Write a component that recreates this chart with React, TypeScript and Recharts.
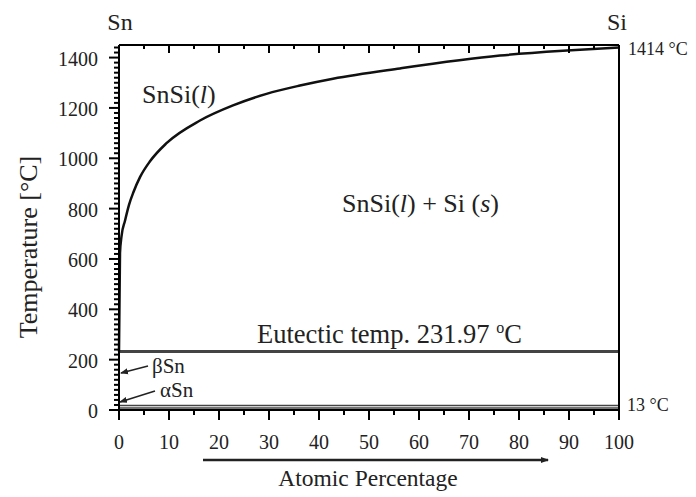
import React from 'react';
import { LineChart, Line, XAxis, YAxis, ReferenceLine } from 'recharts';

// Sn-Si liquidus
const atomicPct = [0, 0.2, 0.5, 1.2, 2.0, 2.9, 4.2, 6.2, 9.5, 16.2, 22.8, 29.5, 36.2, 42.8, 56.2, 76.2, 89.6, 100];
const liquidusTemp = [232, 624, 690, 752, 815, 866, 925, 988, 1060, 1150, 1210, 1256, 1289, 1316, 1357, 1408, 1428, 1440];

const eutecticTemp = 231.97;
const alphaBetaTemp = 13;

const xTicks = [0, 5, 10, 15, 20, 25, 30, 35, 40, 45, 50, 55, 60, 65, 70, 75, 80, 85, 90, 95, 100];
const yTicks = Array.from({ length: 73 }, (_, i) => i * 20); // minor every 20, labels every 200

const data = atomicPct.map((x, i) => ({ x, t: liquidusTemp[i] }));

const FONT = '"Liberation Serif", "DejaVu Serif", serif';

const BottomTick = (props: any) => {
  const { x, y, payload } = props;
  const major = payload.value % 10 === 0;
  return (
    <g>
      <line x1={x} x2={x} y1={y} y2={y + (major ? 10 : 5)} stroke="#000" strokeWidth={2} />
      {major && (
        <text x={x} y={y + 39} textAnchor="middle" fontFamily={FONT} fontSize={20} fill="#222">
          {payload.value}
        </text>
      )}
    </g>
  );
};

const TopTick = (props: any) => {
  const { x, y, payload } = props;
  const major = payload.value % 10 === 0;
  return <line x1={x} x2={x} y1={y} y2={y + (major ? 8 : 4)} stroke="#000" strokeWidth={2} />;
};

const LeftTick = (props: any) => {
  const { x, y, payload } = props;
  const major = payload.value % 200 === 0;
  return (
    <g>
      <line x1={x - (major ? 10 : 5)} x2={x} y1={y} y2={y} stroke="#000" strokeWidth={2} />
      {major && (
        <text x={x - 21} y={y + 8} textAnchor="end" fontFamily={FONT} fontSize={20} fill="#222">
          {payload.value}
        </text>
      )}
    </g>
  );
};

const RightTick = (props: any) => {
  const { x, y, payload } = props;
  const major = payload.value % 200 === 0;
  return <line x1={x - (major ? 8 : 5)} x2={x} y1={y} y2={y} stroke="#000" strokeWidth={2} />;
};

export default function App() {
  return (
    <div style={{ position: 'absolute', left: 0, top: 0, background: '#fff' }}>
      <LineChart width={696} height={497} data={data} margin={{ top: 0, right: 0, bottom: 0, left: 0 }}>
        <defs>
          <marker id="arrowHead" markerWidth="8" markerHeight="8" refX="7" refY="4" orient="auto" markerUnits="userSpaceOnUse">
            <path d="M0,1 L8,4 L0,7 Z" fill="#222" />
          </marker>
        </defs>
        <XAxis
          xAxisId="bottom"
          dataKey="x"
          type="number"
          domain={[0, 100]}
          ticks={xTicks}
          interval={0}
          height={87}
          tickSize={0}
          tickMargin={0}
          tick={<BottomTick />}
          axisLine={{ stroke: '#000', strokeWidth: 2 }}
        />
        <XAxis
          xAxisId="top"
          orientation="top"
          dataKey="x"
          type="number"
          domain={[0, 100]}
          ticks={xTicks}
          interval={0}
          height={45}
          tickSize={0}
          tickMargin={0}
          tick={<TopTick />}
          axisLine={{ stroke: '#000', strokeWidth: 2 }}
        />
        <YAxis
          yAxisId="left"
          type="number"
          domain={[0, 1450]}
          ticks={yTicks}
          interval={0}
          width={119}
          tickSize={0}
          tickMargin={0}
          tick={<LeftTick />}
          axisLine={{ stroke: '#000', strokeWidth: 2 }}
        />
        <YAxis
          yAxisId="right"
          orientation="right"
          type="number"
          domain={[0, 1450]}
          ticks={yTicks}
          interval={0}
          width={77}
          tickSize={0}
          tickMargin={0}
          tick={<RightTick />}
          axisLine={{ stroke: '#000', strokeWidth: 2 }}
        />
        <ReferenceLine xAxisId="bottom" yAxisId="left" y={eutecticTemp} stroke="#444" strokeWidth={3} />
        <ReferenceLine xAxisId="bottom" yAxisId="left" y={alphaBetaTemp} stroke="#444" strokeWidth={4} />
        <ReferenceLine xAxisId="bottom" yAxisId="left" y={alphaBetaTemp} stroke="#fff" strokeWidth={1.2} />
        <Line
          xAxisId="bottom"
          yAxisId="left"
          dataKey="t"
          type="monotone"
          stroke="#111"
          strokeWidth={2.5}
          dot={false}
          isAnimationActive={false}
        />

        {/* annotations */}
        <g fontFamily={FONT} fill="#222">
          <text x={120} y={30} textAnchor="middle" fontSize={24}>Sn</text>
          <text x={617} y={30} textAnchor="middle" fontSize={24}>Si</text>
          <text x={628} y={55} fontSize={18}>1414 °C</text>
          <text x={627} y={411} fontSize={18}>13 °C</text>
          <text x={142} y={103} fontSize={26}>
            SnSi(<tspan fontStyle="italic">l</tspan>)
          </text>
          <text x={342} y={212} fontSize={26}>
            SnSi(<tspan fontStyle="italic">l</tspan>) + Si (<tspan fontStyle="italic">s</tspan>)
          </text>
          <text x={257} y={343} fontSize={26.5}>
            Eutectic temp. 231.97 <tspan fontSize={16} dy={-10}>o</tspan>
            <tspan dy={10}>C</tspan>
          </text>
          <text x={152} y={373} fontSize={21}>βSn</text>
          <text x={160} y={397} fontSize={21}>αSn</text>
          <text x={368} y={486} textAnchor="middle" fontSize={23.5}>Atomic Percentage</text>
          <text transform="translate(37, 247) rotate(-90)" textAnchor="middle" fontSize={26}>
            Temperature [°C]
          </text>
        </g>
        <line x1={148} y1={366} x2={121} y2={373} stroke="#222" strokeWidth={1.5} markerEnd="url(#arrowHead)" />
        <line x1={155} y1={391} x2={120} y2={402} stroke="#222" strokeWidth={1.5} markerEnd="url(#arrowHead)" />
        <line x1={203} y1={460} x2={548} y2={460} stroke="#222" strokeWidth={2.5} markerEnd="url(#arrowHead)" />
      </LineChart>
    </div>
  );
}
